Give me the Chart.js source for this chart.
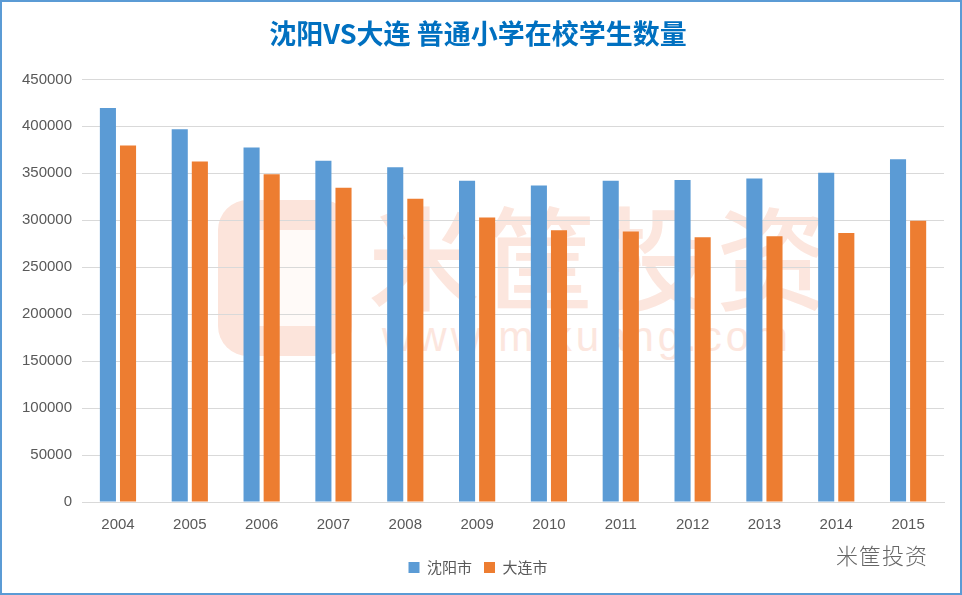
<!DOCTYPE html>
<html>
<head>
<meta charset="utf-8">
<script src="https://cdn.jsdelivr.net/npm/chart.js@4"></script>
<style>
html,body{margin:0;padding:0;background:#fff;}
#wrap{position:relative;width:962px;height:595px;box-sizing:border-box;border:2px solid #5B9BD5;background:#fff;}
#c{display:block;position:relative;z-index:2;}
.bg{position:absolute;z-index:1;}
#logo{left:216px;top:198px;width:134px;height:156px;border-radius:30px;background:#fce4db;}
#logo:after{content:"";position:absolute;left:28px;top:30px;width:78px;height:96px;background:#fff;border-radius:6px;opacity:0.8;}
#bigtxt{left:366px;top:186px;font-family:"Noto Sans CJK SC";font-weight:500;font-size:112px;line-height:130px;color:#fce6de;letter-spacing:4px;}
#url{left:380px;top:310px;font-family:"Liberation Sans";font-size:42px;line-height:50px;color:#fce6de;letter-spacing:4px;}
#wm{position:absolute;z-index:3;right:32px;top:536px;font-family:"Noto Sans CJK SC";font-weight:300;font-size:22px;color:#666;letter-spacing:1px;}
</style>
</head>
<body>
<div id="wrap">
<div class="bg" id="logo"></div>
<div class="bg" id="bigtxt">米筐投资</div>
<div class="bg" id="url">www.mikuang.com</div>
<canvas id="c" width="958" height="591"></canvas>
<div id="wm">米筐投资</div>
</div>
<script>
const years = ['2004','2005','2006','2007','2008','2009','2010','2011','2012','2013','2014','2015'];
const shenyang = [419500,397000,377500,363500,356500,342000,337000,342000,343000,344500,350500,365000];
const dalian = [379500,362500,349000,334500,323000,303000,289500,288000,282000,283000,286500,299500];
const yTickMax = 450000;
const yTickStep = 50000;

new Chart(document.getElementById('c'), {
  type: 'bar',
  data: {
    labels: years,
    datasets: [
      {label:'沈阳市', data: shenyang, backgroundColor:'#5B9BD5', categoryPercentage:0.56, barPercentage:0.8},
      {label:'大连市', data: dalian, backgroundColor:'#ED7D31', categoryPercentage:0.56, barPercentage:0.8}
    ]
  },
  options: {
    responsive:false,
    animation:false,
    devicePixelRatio:1,
    layout:{padding:{left:10,right:16,top:0,bottom:8}},
    plugins:{
      title:{display:true,text:'沈阳VS大连 普通小学在校学生数量',color:'#0070C0',
        font:{family:'"Noto Sans CJK SC"',size:27,weight:'bold'},padding:{top:16,bottom:29}},
      legend:{position:'bottom',labels:{boxWidth:11,boxHeight:11,color:'#595959',padding:12,
        font:{family:'"Noto Sans CJK SC"',size:15}}},
      tooltip:{enabled:false}
    },
    scales:{
      x:{grid:{display:false,drawTicks:false},border:{color:'#d9d9d9'},
        ticks:{color:'#595959',padding:14,font:{family:'"Liberation Sans"',size:15}}},
      y:{min:0,max:yTickMax,grid:{color:'#d9d9d9',drawTicks:false},border:{display:false},
        ticks:{stepSize:yTickStep,color:'#595959',padding:10,callback:v=>String(v),
          font:{family:'"Liberation Sans"',size:15}}}
    }
  }
});
</script>
</body>
</html>
